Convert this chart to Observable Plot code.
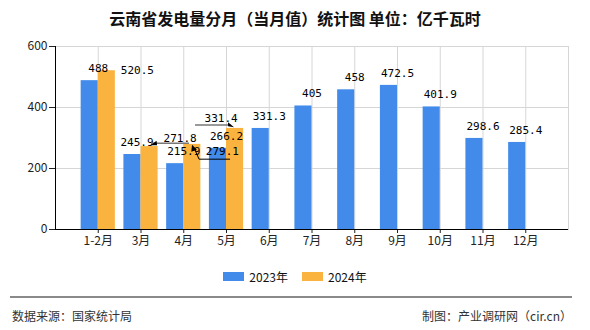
<!DOCTYPE html>
<html>
<head>
<meta charset="utf-8">
<script src="https://cdn.jsdelivr.net/npm/d3@7"></script>
<script src="https://cdn.jsdelivr.net/npm/@observablehq/plot@0.6"></script>
<style>
  html, body { margin: 0; padding: 0; background: #fff; }
  #wrap { position: relative; width: 590px; height: 330px; overflow: hidden; font-family: "Noto Sans CJK SC", sans-serif; }
  #chart { position: absolute; left: 0; top: 0; }
  .title { position: absolute; left: 0; width: 590px; top: 7px; text-align: center; font-size: 16px; font-weight: bold; color: #111; line-height: 22px; }
  .legend { position: absolute; top: 268px; left: 0; width: 590px; display: flex; justify-content: center; align-items: center; font-size: 12px; color: #111; }
  .legend .item { display: flex; align-items: center; margin: 0 7px; }
  .legend .sw { width: 21px; height: 9px; margin-right: 5px; }
  .sep { position: absolute; left: 10px; width: 562px; top: 296px; height: 0; border-top: 2px solid #8a8a8a; }
  .foot { position: absolute; top: 306px; font-size: 12px; color: #333; line-height: 20px; }
</style>
</head>
<body>
<div id="wrap">
  <div class="title">云南省发电量分月（当月值）统计图 单位：亿千瓦时</div>
  <div id="chart"></div>
  <div class="legend" id="legend"></div>
  <div class="sep"></div>
  <div class="foot" style="left:12px">数据来源：国家统计局</div>
  <div class="foot" style="right:18px">制图：产业调研网（cir.cn）</div>
</div>
<script>
// ---- data ----
const categories = ["1-2月", "3月", "4月", "5月", "6月", "7月", "8月", "9月", "10月", "11月", "12月"];
const values2023 = [488, 245.9, 215.9, 266.2, 331.3, 405, 458, 472.5, 401.9, 298.6, 285.4];
const values2024 = [520.5, 271.8, 279.1, 331.4];
const seriesNames = ["2023年", "2024年"];
const yTicks = [0, 200, 400, 600];

// ---- style / layout ----
const colors = ["#428BEA", "#FBB33F"];
const gridColor = "#d6d6d6";
const labelFont = "'DejaVu Sans Mono', monospace";
// label offsets (px): [dx, dy of baseline relative to bar top]
const labelOffsets2023 = values2023.map((v, i) => i === 1 ? [-4, -8.5] : [0, -8.5]);
const labelOffsets2024 = [[22, 3], [22, -5], [21.5, 11], [-22.5, -6]];

const rows2023 = categories.map((c, i) => ({cat: c, value: values2023[i]}));
const rows2024 = values2024.map((v, i) => ({cat: categories[i], value: v}));

const W = 590, H = 260;
const mL = 55, mR = 22, mT = 46, mB = 31;

// band scale geometry: step = (W-mL-mR)/12, bandwidth = 0.4*step
const step = (W - mL - mR) / 12;
const bw = step * 0.4;

const textMarks = [];
rows2023.forEach((r, i) => {
  textMarks.push(Plot.text([r], {
    x: "cat", y: "value", text: d => String(d.value),
    dx: labelOffsets2023[i][0], dy: labelOffsets2023[i][1],
    lineAnchor: "bottom", fontFamily: labelFont, fontSize: 11, fill: "#000"
  }));
});
rows2024.forEach((r, i) => {
  textMarks.push(Plot.text([r], {
    x: "cat", y: "value", text: d => String(d.value),
    dx: bw + labelOffsets2024[i][0], dy: labelOffsets2024[i][1],
    lineAnchor: "bottom", fontFamily: labelFont, fontSize: 11, fill: "#000"
  }));
});

const plot = Plot.plot({
  width: W, height: H,
  marginLeft: mL, marginRight: mR, marginTop: mT, marginBottom: mB,
  style: {fontFamily: "'Noto Sans CJK SC', sans-serif", fontSize: "12px", color: "#222", background: "transparent"},
  x: {type: "band", domain: categories, paddingInner: 0.6, paddingOuter: 0.8, round: false, label: null, tickSize: 4, tickPadding: 3},
  y: {domain: [0, 600], ticks: yTicks, tickSize: 6, tickPadding: 2, label: null},
  marks: [
    Plot.frame({stroke: gridColor}),
    Plot.ruleY(yTicks.filter(t => t > 0), {stroke: gridColor}),
    Plot.ruleX(categories, {stroke: gridColor}),
    Plot.barY(rows2023, {x: "cat", y: "value", fill: colors[0], dx: -bw / 2}),
    Plot.barY(rows2024, {x: "cat", y: "value", fill: colors[1], dx: bw / 2}),
    Plot.ruleY([0], {stroke: "#000"}),
    Plot.frame({anchor: "left", stroke: "#000"}),
    ...textMarks
  ]
});
document.getElementById("chart").appendChild(plot);

// ---- leader lines for crowded labels (offsets relative to 2024 bar centre/top) ----
const xs = plot.scale("x"), ys = plot.scale("y");
const xApply = xs.apply ? (c => xs.apply(c)) : (c => d3.scaleBand(xs.domain, xs.range).paddingInner(0.6).paddingOuter(0.8)(c));
const yApply = ys.apply ? (v => ys.apply(v)) : (v => d3.scaleLinear(ys.domain, ys.range)(v));
const leaders = [
  {i: 1, stroke: "#777", width: 1.5, line: [[2, -2.8], [40, -2.8]], head: [[1.5, -0.8], [7.5, -5.3], [8, -0.8]]},
  {i: 2, stroke: "#000", width: 1, line: [[2.25, 4], [7.25, 15.3], [38.25, 15.3]], head: [[0.25, 1], [-0.5, 8], [5, 6]]},
  {i: 3, stroke: "#777", width: 1.5, line: [[-39.5, -2.8], [-3.5, -2.8]], head: [[-0.5, -0.6], [-6.5, -5.6], [-6.5, -1.6]]}
];
const svg = d3.select(plot.tagName.toLowerCase() === "svg" ? plot : plot.querySelector("svg"));
const g = svg.append("g");
leaders.forEach(L => {
  const cx = xApply(categories[L.i]) + bw;
  const ty = yApply(values2024[L.i]);
  g.append("path")
    .attr("d", d3.line()(L.line.map(([dx, dy]) => [cx + dx, ty + dy])))
    .attr("fill", "none").attr("stroke", L.stroke).attr("stroke-width", L.width);
  g.append("path")
    .attr("d", d3.line()(L.head.map(([dx, dy]) => [cx + dx, ty + dy])) + "Z")
    .attr("fill", "#000");
});

// ---- legend ----
const legend = document.getElementById("legend");
seriesNames.forEach((name, i) => {
  const item = document.createElement("div");
  item.className = "item";
  item.innerHTML = `<span class="sw" style="background:${colors[i]}"></span><span>${name}</span>`;
  legend.appendChild(item);
});
</script>
</body>
</html>
